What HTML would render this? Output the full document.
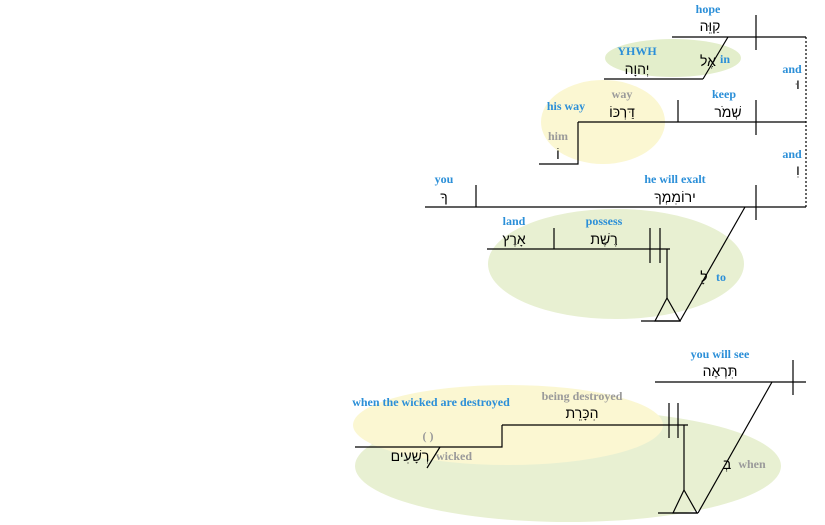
<!DOCTYPE html>
<html><head><meta charset="utf-8"><style>
html,body{margin:0;padding:0;background:#fff;}
svg{display:block;}
.b{font-family:"Liberation Serif",serif;font-weight:bold;font-size:12px;fill:#2b8fd8;}
.g{font-family:"Liberation Serif",serif;font-weight:bold;font-size:12px;fill:#9a9a9a;}
.h{font-family:"Liberation Sans","DejaVu Sans",sans-serif;font-size:14px;fill:#000;}
</style></head><body>
<svg width="825" height="525" viewBox="0 0 825 525" xmlns="http://www.w3.org/2000/svg">
<g text-anchor="middle">
<ellipse cx="673" cy="58" rx="68" ry="19" fill="#e3eecb"/>
<ellipse cx="603" cy="122" rx="62" ry="42" fill="#fbf7d2"/>
<ellipse cx="616" cy="264" rx="128" ry="55" fill="#e8f0d2"/>
<ellipse cx="568" cy="466" rx="213" ry="56" fill="#e8f0d2"/>
<ellipse cx="508" cy="425" rx="155" ry="40" fill="#fbf7d2"/>
<g stroke="#000" stroke-width="1.2" fill="none">
<line x1="672" y1="37" x2="806" y2="37"/><line x1="756" y1="15" x2="756" y2="50"/>
<line x1="806" y1="37" x2="806" y2="207" stroke-dasharray="2,2"/>
<line x1="604" y1="79" x2="703" y2="79"/><line x1="703" y1="79" x2="728" y2="37"/>
<line x1="578" y1="122" x2="806" y2="122"/><line x1="678" y1="100" x2="678" y2="122"/><line x1="756" y1="100" x2="756" y2="135"/>
<polyline points="578,122 578,164 539,164"/>
<line x1="425" y1="207" x2="806" y2="207"/><line x1="476" y1="185" x2="476" y2="207"/><line x1="756" y1="185" x2="756" y2="220"/>
<line x1="487" y1="249" x2="670" y2="249"/><line x1="554" y1="228" x2="554" y2="249"/>
<line x1="650" y1="228" x2="650" y2="263"/><line x1="660" y1="228" x2="660" y2="263"/>
<line x1="667" y1="249" x2="667" y2="298"/><polygon points="667,298 655,321 680,321"/>
<line x1="641" y1="321" x2="680" y2="321"/><line x1="680" y1="321" x2="745" y2="207"/>
<line x1="655" y1="382" x2="806" y2="382"/><line x1="793" y1="360" x2="793" y2="395"/>
<line x1="772" y1="382" x2="698" y2="513"/>
<line x1="502" y1="425" x2="688" y2="425"/><polyline points="502,425 502,447 355,447"/>
<line x1="669" y1="403" x2="669" y2="438"/><line x1="678" y1="403" x2="678" y2="438"/>
<line x1="684" y1="425" x2="684" y2="490"/><polygon points="684,490 673,513 697,513"/>
<line x1="658" y1="513" x2="698" y2="513"/>
<line x1="427" y1="468" x2="440" y2="447"/>
</g>
<text class="b" x="708" y="13">hope</text><text class="h" x="710" y="31">קַוֵּה</text>
<text class="b" x="637" y="55">YHWH</text><text class="h" x="637" y="74">יְהוָה</text>
<text class="h" x="708" y="66">אֶל</text><text class="b" x="725" y="63">in</text>
<text class="b" x="792" y="73">and</text><text class="h" x="798" y="89">וּ</text>
<text class="g" x="622" y="98">way</text><text class="h" x="622" y="117">דַּרְכּוֹ</text>
<text class="b" x="566" y="110">his way</text>
<text class="b" x="724" y="98">keep</text><text class="h" x="728" y="117">שְׁמֹר</text>
<text class="g" x="558" y="140">him</text><text class="h" x="558" y="159">וֹ</text>
<text class="b" x="792" y="158">and</text><text class="h" x="798" y="175">וִ</text>
<text class="b" x="444" y="183">you</text><text class="h" x="444" y="202">ךָ</text>
<text class="b" x="675" y="183">he will exalt</text><text class="h" x="675" y="202">ירוֹמִמְךָ</text>
<text class="b" x="514" y="225">land</text><text class="h" x="514" y="244">אָרֶץ</text>
<text class="b" x="604" y="225">possess</text><text class="h" x="604" y="244">רֶשֶׁת</text>
<text class="h" x="704" y="282">לָ</text><text class="b" x="721" y="281">to</text>
<text class="b" x="720" y="358">you will see</text><text class="h" x="720" y="376">תִּרְאֶה</text>
<text class="b" x="431" y="406">when the wicked are destroyed</text>
<text class="g" x="582" y="400">being destroyed</text><text class="h" x="582" y="418">הִכָּרֵת</text>
<text class="g" x="428" y="440">( )</text><text class="h" x="410" y="461">רְשָׁעִים</text>
<text class="g" x="454" y="460">wicked</text>
<text class="h" x="727" y="469">בְּ</text><text class="g" x="752" y="468">when</text>
</g>
</svg>
</body></html>
